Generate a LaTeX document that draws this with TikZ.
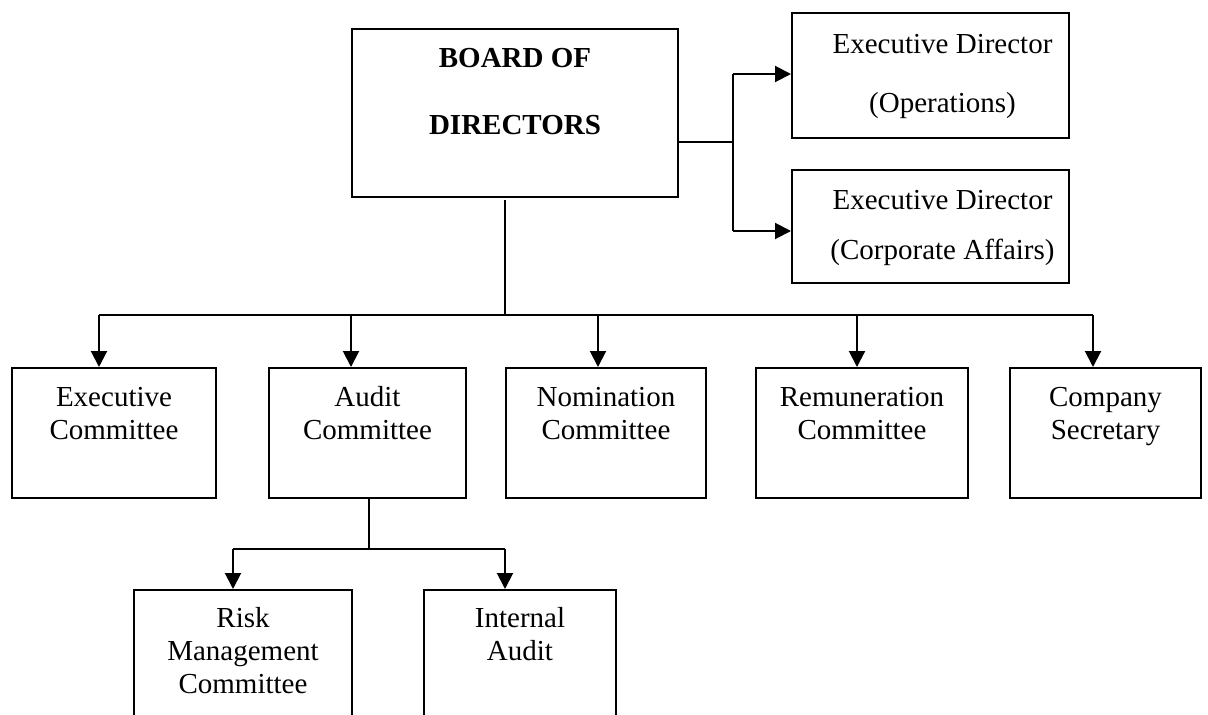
\documentclass[tikz,border=0pt]{standalone}
\usepackage{fontspec}
\setmainfont{Liberation Serif}
\usetikzlibrary{arrows.meta,calc}
\begin{document}
\begin{tikzpicture}[x=1pt,y=-1pt,
  box/.style={draw,line width=2pt,rectangle,inner sep=0pt,anchor=north west},
  txt/.style={inner sep=0pt,anchor=base,font=\fontsize{29}{33}\selectfont},
  conn/.style={line width=2pt},
  arr/.style={line width=2pt,-{Triangle[length=16pt,width=16pt]}}]
\clip (0,0) rectangle (1208,715);
% boxes
\node[box,minimum width=326pt,minimum height=168pt] (board) at (351,28) {};
\node[box,minimum width=277pt,minimum height=125pt] (ed1) at (791,12) {};
\node[box,minimum width=277pt,minimum height=113pt] (ed2) at (791,169) {};
\node[box,minimum width=204pt,minimum height=130pt] (exec) at (11,367) {};
\node[box,minimum width=197pt,minimum height=130pt] (audit) at (268,367) {};
\node[box,minimum width=200pt,minimum height=130pt] (nom) at (505,367) {};
\node[box,minimum width=212pt,minimum height=130pt] (rem) at (755,367) {};
\node[box,minimum width=191pt,minimum height=130pt] (sec) at (1009,367) {};
\node[box,minimum width=218pt,minimum height=150pt] (risk) at (133,589) {};
\node[box,minimum width=192pt,minimum height=150pt] (ia) at (423,589) {};
% texts
\node[txt,font=\fontsize{29}{33}\selectfont\bfseries] (boardt) at ($(board.north)+(0,39)$) {\begin{tabular}[t]{@{}c@{}}BOARD OF\\[34pt]DIRECTORS\end{tabular}};
\node[txt] (ed1t) at ($(ed1.north)+(12,41)$) {\begin{tabular}[t]{@{}c@{}}Executive Director\\[26pt](Operations)\end{tabular}};
\node[txt] (ed2t) at ($(ed2.north)+(12,40)$) {\begin{tabular}[t]{@{}c@{}}Executive Director\\[17pt](Corporate Affairs)\end{tabular}};
\node[txt] (exect) at ($(exec.north)+(0,39)$) {\begin{tabular}[t]{@{}c@{}}Executive\\Committee\end{tabular}};
\node[txt] (auditt) at ($(audit.north)+(0,39)$) {\begin{tabular}[t]{@{}c@{}}Audit\\Committee\end{tabular}};
\node[txt] (nomt) at ($(nom.north)+(0,39)$) {\begin{tabular}[t]{@{}c@{}}Nomination\\Committee\end{tabular}};
\node[txt] (remt) at ($(rem.north)+(0,39)$) {\begin{tabular}[t]{@{}c@{}}Remuneration\\Committee\end{tabular}};
\node[txt] (sect) at ($(sec.north)+(0,39)$) {\begin{tabular}[t]{@{}c@{}}Company\\Secretary\end{tabular}};
\node[txt] (riskt) at ($(risk.north)+(0,38)$) {\begin{tabular}[t]{@{}c@{}}Risk\\Management\\Committee\end{tabular}};
\node[txt] (iat) at ($(ia.north)+(0,38)$) {\begin{tabular}[t]{@{}c@{}}Internal\\Audit\end{tabular}};
% connector points
\coordinate (t1) at (505,200);
\coordinate (t2) at (505,315);
\coordinate (b1) at (99,315);
\coordinate (b2) at (351,315);
\coordinate (b3) at (598,315);
\coordinate (b4) at (857,315);
\coordinate (b5) at (1093,315);
\coordinate (a1) at (369,549);
\coordinate (s1) at (233,549);
\coordinate (s2) at (505,549);
\coordinate (jr) at (733,142);
\coordinate (j1) at (733,74);
\coordinate (j2) at (733,231);
% connectors
\draw[conn] (t1) -- (t2);
\draw[conn] (b1) -- (b5);
\draw[arr] (b1) -- (b1 |- exec.north);
\draw[arr] (b2) -- (b2 |- audit.north);
\draw[arr] (b3) -- (b3 |- nom.north);
\draw[arr] (b4) -- (b4 |- rem.north);
\draw[arr] (b5) -- (b5 |- sec.north);
\draw[conn] (a1 |- audit.south) -- (a1);
\draw[conn] (s1) -- (s2);
\draw[arr] (s1) -- (s1 |- risk.north);
\draw[arr] (s2) -- (s2 |- ia.north);
\draw[conn] (jr -| board.east) -- (jr);
\draw[conn] (j1) -- (j2);
\draw[arr] (j1) -- (j1 -| ed1.west);
\draw[arr] (j2) -- (j2 -| ed2.west);
\end{tikzpicture}
\end{document}
